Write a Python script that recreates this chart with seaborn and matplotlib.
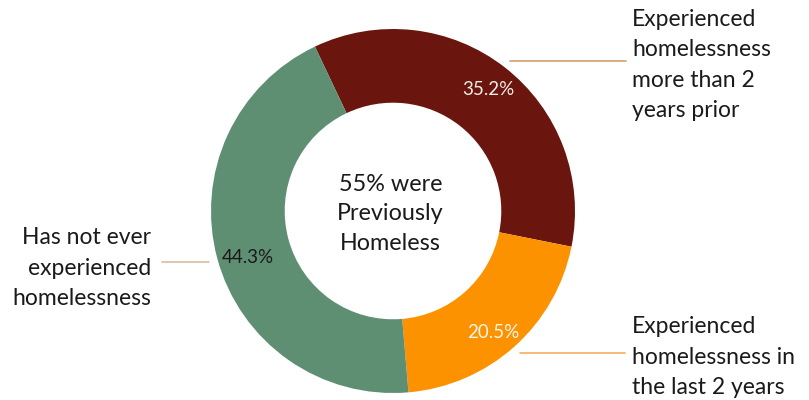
import matplotlib
matplotlib.use("Agg")
import matplotlib.pyplot as plt
import seaborn as sns

categories = ["Experienced\nhomelessness\nmore than 2\nyears prior",
              "Experienced\nhomelessness in\nthe last 2 years",
              "Has not ever\nexperienced\nhomelessness"]
values = [35.2, 20.5, 44.3]
colors = ["#6a150e", "#fd9200", "#5f8f72"]
pct_colors = ["#f4ece8", "#fff6ea", "#1a1a1a"]
center_text = "55% were\nPreviously\nHomeless"

sns.set_theme(style="white")
plt.rcParams['font.family'] = ['Lato', 'DejaVu Sans']

W, H = 809, 400
fig = plt.figure(figsize=(W / 100, H / 100), dpi=100)
cx, cy, R = 393, 211, 182
ax = fig.add_axes([(cx - R) / W, (H - cy - R) / H, 2 * R / W, 2 * R / H])

wedges, texts, autotexts = ax.pie(
    values, colors=colors, startangle=115.4, counterclock=False,
    autopct="%.1f%%", pctdistance=0.85,
    wedgeprops=dict(width=0.405, edgecolor="none"),
    textprops=dict(fontsize=13.5))
# small nudges of the percentage labels (in axes data units)
nudges = [(0.0, 0.0), (-0.015, -0.035), (0.025, -0.035)]
for t, c, (dx, dy) in zip(autotexts, pct_colors, nudges):
    t.set_color(c)
    x, y = t.get_position()
    t.set_position((x + dx, y + dy))
ax.set_xlim(-1, 1)
ax.set_ylim(-1, 1)
ax.set_aspect("equal")
ax.axis("off")

# va='baseline' aligns the last line's baseline
ax.text(-0.014, -0.214, center_text, ha="center", va="baseline", fontsize=16.8,
        color="#1a1a1a", linespacing=1.5)

# labels and leader lines
label_pos = [(1.313, 0.516, "left"), (1.313, -1.005, "left"), (-1.331, -0.517, "right")]
leaders = [((0.643, 1.280), (0.824, 0.824), "#d2a06a"),
           ((0.698, 1.275), (-0.782, -0.782), "#f6ae5a"),
           ((-1.271, -1.010), (-0.279, -0.279), "#d8bf9c")]
for (x, y, ha), lab in zip(label_pos, categories):
    ax.text(x, y, lab, ha=ha, va="baseline", fontsize=16.5, color="#1a1a1a",
            linespacing=1.55, multialignment=ha)
for xs, ys, c in leaders:
    ax.plot(xs, ys, color=c, lw=1.2, clip_on=False)

fig.savefig("out.png", dpi=100, facecolor="white")
